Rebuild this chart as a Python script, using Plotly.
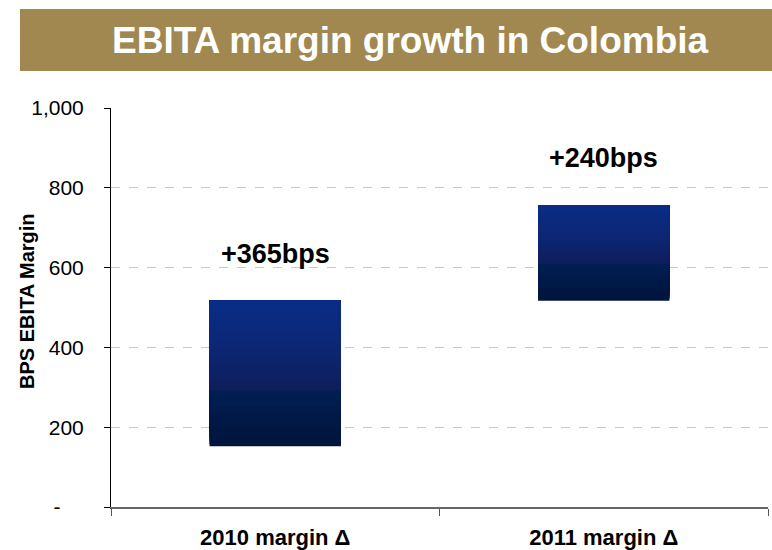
import plotly.graph_objects as go

# ---- data ----
categories = ["2010 margin Δ", "2011 margin Δ"]
bar_base = [152, 517]
bar_top = [517, 757]
bar_labels = ["+365bps", "+240bps"]
y_tickvals = [0, 200, 400, 600, 800, 1000]
y_ticktext = ["-\u2007\u2007", "200", "400", "600", "800", "1,000"]

W, H = 772, 550
L, R, T, B = 111, 4, 108, 43
PW, PH = W - L - R, H - T - B
FONT = "Liberation Sans, Arial"

# gradient stops (fraction from top, rgb)
stops = [(0.0, (11, 45, 135)), (0.35, (12, 38, 115)), (0.61, (15, 30, 90)),
         (0.62, (1, 30, 82)), (1.0, (1, 20, 60))]

def color_at(f):
    for (f0, c0), (f1, c1) in zip(stops[:-1], stops[1:]):
        if f0 <= f <= f1:
            t = 0 if f1 == f0 else (f - f0) / (f1 - f0)
            c = [round(a + (b - a) * t) for a, b in zip(c0, c1)]
            return f"rgb({c[0]},{c[1]},{c[2]})"
    return "rgb(1,20,60)"

fig = go.Figure()
N = 60
for i in range(N):
    bases, heights = [], []
    for lo, hi in zip(bar_base, bar_top):
        b = lo + (hi - lo) * i / N
        bases.append(b)
        heights.append(hi - b)
    f = 1 - (i + 0.5) / N
    fig.add_trace(go.Bar(
        x=categories, y=heights, base=bases, width=0.4,
        marker=dict(color=color_at(f), line=dict(width=0)),
        hoverinfo="skip", showlegend=False,
    ))

fig.update_layout(barmode="overlay")

for c, hi, lab in zip(categories, bar_top, bar_labels):
    fig.add_annotation(x=c, y=hi, text=f"<b>{lab}</b>", showarrow=False,
                       yanchor="middle", yshift=47,
                       font=dict(family=FONT, size=27, color="black"))

# title banner
fig.add_shape(type="rect", xref="paper", yref="paper",
              x0=(20 - L) / PW, x1=(W - L) / PW,
              y0=(H - B - 71) / PH, y1=(H - B - 9) / PH,
              fillcolor="#A08850", line=dict(width=0), layer="below")
fig.add_annotation(xref="paper", yref="paper", x=(410 - L) / PW, y=(H - B - 41) / PH,
                   text="<b>EBITA margin growth in Colombia</b>", showarrow=False,
                   xanchor="center", yanchor="middle",
                   font=dict(family=FONT, size=37, color="white"))
# y title
fig.add_annotation(xref="paper", yref="paper", x=(27 - L) / PW, y=(H - B - 301) / PH,
                   text="<b>BPS EBITA Margin</b>", showarrow=False, textangle=-90,
                   xanchor="center", yanchor="middle",
                   font=dict(family=FONT, size=20, color="black"))

fig.update_layout(
    width=W, height=H, margin=dict(l=L, r=R, t=T, b=B, autoexpand=False),
    paper_bgcolor="white", plot_bgcolor="white",
    font=dict(family=FONT, color="black"),
)
fig.update_xaxes(
    type="category", range=[-0.5, 1.5], tickson="boundaries",
    ticks="outside", ticklen=7, tickcolor="#555555", tickwidth=1,
    showline=True, linecolor="#666666", linewidth=1.5, showgrid=False,
    tickfont=dict(family=FONT, size=22, color="black"),
    ticktext=[f"<b>{c}</b>" for c in categories], tickvals=categories,
    ticklabelstandoff=10,
)
fig.update_yaxes(
    range=[0, 1000], tickvals=y_tickvals, ticktext=y_ticktext,
    ticks="outside", ticklen=6, tickcolor="black",
    showline=True, linecolor="black", linewidth=1,
    showgrid=True, gridcolor="#C8C8C8", griddash="dash", gridwidth=1,
    zeroline=False,
    tickfont=dict(family=FONT, size=21, color="black"),
    ticklabelstandoff=16,
)

fig.write_html("out.html")
